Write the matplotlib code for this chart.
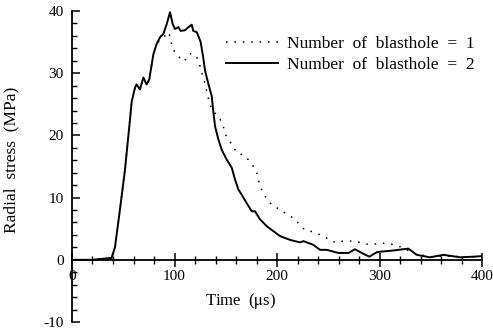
import matplotlib.pyplot as plt
from matplotlib.ticker import MultipleLocator

plt.rcParams['font.family'] = ['Liberation Serif', 'DejaVu Serif']
plt.rcParams['mathtext.fontset'] = 'stix'
plt.rcParams['axes.unicode_minus'] = False

# radial stress histories read at the gauge, time in microseconds, stress in MPa
t_two = [0, 20, 38.7, 42, 46.8, 51.7, 56.6, 58.2, 61.5, 63, 66.3, 69.6, 72.8,
         75.4, 79.3, 82.6, 85.9, 89.1, 92.4, 95.6, 98.2, 100.5, 103.7, 106,
         110.2, 113.5, 116.8, 118.3, 121.6, 123.2, 125.5, 128, 129.8, 133,
         136.3, 137.9, 139.5, 142.7, 146, 150.9, 155.8, 159, 162.3, 165,
         170.4, 175.3, 178.5, 183.4, 190, 196.4, 203, 212.7, 222.4, 225.7,
         235.4, 242, 248.5, 259.8, 269.6, 276, 282.6, 290, 297, 300.5, 313.5,
         328, 336.3, 349, 362.3, 378.5, 391.5, 400]
s_two = [0, 0, 0.3, 2.1, 8.1, 14.5, 22.6, 25.4, 27.7, 28.2, 27.4, 29.3, 28.2,
         29.0, 33.0, 34.7, 35.8, 36.3, 37.9, 39.8, 37.9, 37.1, 37.4, 36.8,
         36.9, 37.4, 37.8, 36.8, 36.6, 36.0, 35.0, 32.5, 30.4, 28.3,
         26.3, 23.7, 21.5, 19.4, 17.7, 16.1, 14.8, 12.9, 11.3, 10.6,
         9.1, 7.8, 7.8, 6.5, 5.4, 4.6, 3.8, 3.2, 2.8, 3.0,
         2.4, 1.6, 1.6, 1.1, 1.1, 1.7, 1.1, 0.5, 1.2, 1.3, 1.5,
         1.8, 0.8, 0.4, 0.8, 0.4, 0.5, 0.6]

t_one = [0, 20, 38.7, 42, 46.8, 51.7, 56.6, 58.2, 61.5, 63, 66.3, 69.6, 72.8,
         75.4, 79.3, 82.6, 85.9, 90.7, 94, 96.6, 97.2, 100.5, 103.7, 107,
         110.2, 111.9, 116.8, 121.6, 124.2, 126.5, 129.8, 132, 134.6, 136.3,
         144.4, 147.6, 148.6, 152.5, 156.8, 160.7, 166.5, 172, 177, 180.2,
         183.4, 190, 196.4, 203, 209.4, 216, 227, 235, 245, 256.6, 268, 281,
         290.7, 300.5, 310.2, 320, 326.5, 336, 350, 365, 380, 400]
s_one = [0, 0, 0.3, 2.1, 8.1, 14.5, 22.6, 25.4, 27.7, 28.2, 27.4, 29.3, 28.2,
         29.0, 33.0, 34.7, 35.3, 36.0, 36.6, 35.5, 34.4, 33.3, 32.8, 32.0,
         32.0, 32.8, 33.2, 32.6, 31.5, 30.1, 28.3, 26.6, 25.0, 24.2,
         22.6, 21.5, 20.4, 19.4, 18.3, 17.2, 16.9, 16.1, 15.0, 14.0,
         11.8, 9.7, 8.6, 8.1, 7.3, 6.7, 4.8, 4.5, 3.8, 2.8, 3.1, 2.8,
         2.4, 2.7, 2.6, 2.1, 1.6, 0.9, 0.5, 0.6, 0.5, 0.5]


def plot_stress():
    """Radial stress against time for one and two blastholes."""
    fig = plt.figure(figsize=(4.93, 3.33), dpi=100)
    ax = fig.add_axes([0.146, 0.033, 0.832, 0.934])

    ax.plot(t_one, s_one, color='black', lw=1.1, ls=(0, (1, 4.5)),
            label='Number  of  blasthole  =  1')
    ax.plot(t_two, s_two, color='black', lw=1.4,
            label='Number  of  blasthole  =  2')

    ax.set_xlim(0, 400)
    ax.set_ylim(-10, 40)

    for side in ('top', 'right'):
        ax.spines[side].set_visible(False)
    ax.spines['bottom'].set_position(('data', 0))
    ax.spines['bottom'].set_linewidth(1.3)
    ax.spines['left'].set_linewidth(1.3)

    ax.xaxis.set_major_locator(MultipleLocator(100))
    ax.xaxis.set_minor_locator(MultipleLocator(20))
    ax.yaxis.set_major_locator(MultipleLocator(10))
    ax.yaxis.set_minor_locator(MultipleLocator(2))
    ax.tick_params(axis='x', which='major', direction='inout', length=10,
                   width=1.1, labelsize=11, pad=2)
    ax.tick_params(axis='x', which='minor', direction='inout', length=6,
                   width=1.0)
    ax.tick_params(axis='y', which='major', direction='in', length=6,
                   width=1.1, labelsize=11, pad=6)
    ax.tick_params(axis='y', which='minor', direction='in', length=3.5,
                   width=1.0)
    ax.set_xticks([0, 100, 200, 300, 400])
    ax.set_yticks([-10, 0, 10, 20, 30, 40])

    ax.text(164, -6.6, r'Time  ($\mathrm{\mu}$s)', ha='center', va='center',
            fontsize=12)
    ax.set_ylabel('Radial  stress  (MPa)', fontsize=12.5)
    ax.yaxis.set_label_coords(-0.127, 0.52)

    ax.legend(loc='upper right', bbox_to_anchor=(1.02, 0.97), frameon=False,
              fontsize=12.5, handlelength=3.0, handletextpad=0.5,
              labelspacing=0.25)

    fig.savefig('out.png', dpi=100)


if __name__ == '__main__':
    plot_stress()
